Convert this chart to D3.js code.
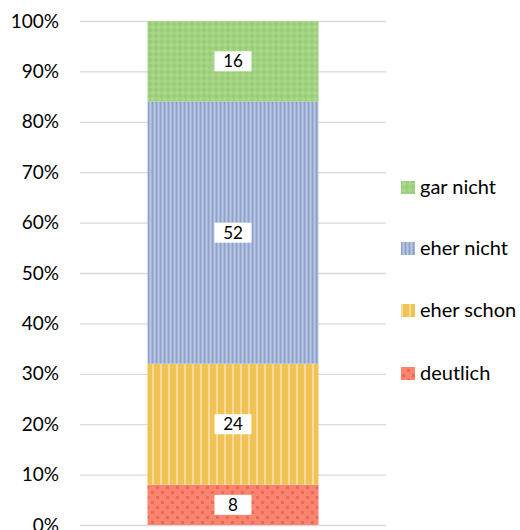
<html>
<head>
<meta charset="UTF-8">
<script src="https://d3js.org/d3.v7.min.js"></script>
<style>
  body { margin: 0; background: #fff; }
  text { font-family: Lato, "Open Sans", sans-serif; fill: #000; }
</style>
</head>
<body>
<svg id="chart"></svg>
<script>
var categories = ["deutlich", "eher schon", "eher nicht", "gar nicht"];
var values = [8, 24, 52, 16];
var colors = ["#fa8472", "#f0c352", "#a5b6d9", "#99cd78"];
var tickValues = [0, 10, 20, 30, 40, 50, 60, 70, 80, 90, 100];

var width = 520, height = 530;
var svg = d3.select("#chart").attr("width", width).attr("height", height);

var y = d3.scaleLinear().domain([0, 100]).range([525, 21]);
var x = d3.scaleBand().domain(["all"]).range([80, 386]).paddingInner(0).paddingOuter(0.395);

var defs = svg.append("defs");
// dots on red
var p0 = defs.append("pattern").attr("id", "pat0").attr("patternUnits", "userSpaceOnUse")
  .attr("width", 10).attr("height", 10);
p0.append("rect").attr("width", 10).attr("height", 10).attr("fill", colors[0]);
p0.append("rect").attr("x", 1).attr("y", 1).attr("width", 3).attr("height", 3).attr("fill", "#ef6a4c");
p0.append("rect").attr("x", 6).attr("y", 6).attr("width", 3).attr("height", 3).attr("fill", "#ef6a4c");
// vertical stripes on yellow
var p1 = defs.append("pattern").attr("id", "pat1").attr("patternUnits", "userSpaceOnUse")
  .attr("width", 8).attr("height", 8);
p1.append("rect").attr("width", 8).attr("height", 8).attr("fill", colors[1]);
p1.append("rect").attr("x", 0).attr("width", 2).attr("height", 8).attr("fill", "#f7d9a4");
// thin vertical stripes on blue
var p2 = defs.append("pattern").attr("id", "pat2").attr("patternUnits", "userSpaceOnUse")
  .attr("width", 4).attr("height", 4);
p2.append("rect").attr("width", 4).attr("height", 4).attr("fill", colors[2]);
p2.append("rect").attr("x", 0).attr("width", 1).attr("height", 4).attr("fill", "#8fa0c8");
p2.append("rect").attr("x", 2).attr("width", 1).attr("height", 4).attr("fill", "#b8c6e6");
// checker on green
var p3 = defs.append("pattern").attr("id", "pat3").attr("patternUnits", "userSpaceOnUse")
  .attr("width", 6).attr("height", 6);
p3.append("rect").attr("width", 6).attr("height", 6).attr("fill", colors[3]);
p3.append("path").attr("d", "M3,0L6,3L3,6L0,3Z").attr("fill", "#a9d88b");

// grid
svg.append("g").selectAll("line").data(tickValues).join("line")
  .attr("x1", 80).attr("x2", 386)
  .attr("y1", d => y(d) + 0.5).attr("y2", d => y(d) + 0.5)
  .attr("stroke", "#d9d9d9").attr("stroke-width", 1.3);

// axis labels
var yAxis = d3.axisLeft(y).tickValues(tickValues).tickFormat(d => d + "%").tickSize(0).tickPadding(0);
var ag = svg.append("g").attr("transform", "translate(59,0)").call(yAxis);
ag.select(".domain").remove();
ag.selectAll("text").style("font-size", "19px").style("font-family", "Lato, 'Open Sans', sans-serif").attr("fill", "#000");

// stacked data
var cum = 0;
var segs = values.map(function (v, i) {
  var s = { cat: categories[i], v: v, y0: cum, y1: cum + v, i: i };
  cum += v;
  return s;
});

var bx = x("all"), bw = x.bandwidth();
svg.append("g").selectAll("rect").data(segs).join("rect")
  .attr("x", bx).attr("width", bw)
  .attr("y", d => y(d.y1)).attr("height", d => y(d.y0) - y(d.y1))
  .attr("fill", d => "url(#pat" + d.i + ")");

// value labels
var lg = svg.append("g").selectAll("g").data(segs).join("g")
  .attr("transform", d => "translate(" + (bx + bw / 2) + "," + y((d.y0 + d.y1) / 2) + ")");
lg.append("rect").attr("x", -18.5).attr("y", -10).attr("width", 37).attr("height", 20).attr("fill", "#fff");
lg.append("text").attr("text-anchor", "middle").attr("dy", "0.36em")
  .style("font-size", "17px").text(d => d.v);

// legend
var legY = [187, 248, 310, 373];
var leg = svg.append("g").selectAll("g").data(segs.slice().reverse()).join("g")
  .attr("transform", (d, k) => "translate(401," + legY[k] + ")");
leg.append("rect").attr("x", 0).attr("y", -6).attr("width", 14).attr("height", 13)
  .attr("fill", d => "url(#pat" + d.i + ")");
leg.append("text").attr("x", 19).attr("dy", "0.35em").style("font-size", "20px").text(d => d.cat);
</script>
</body>
</html>
